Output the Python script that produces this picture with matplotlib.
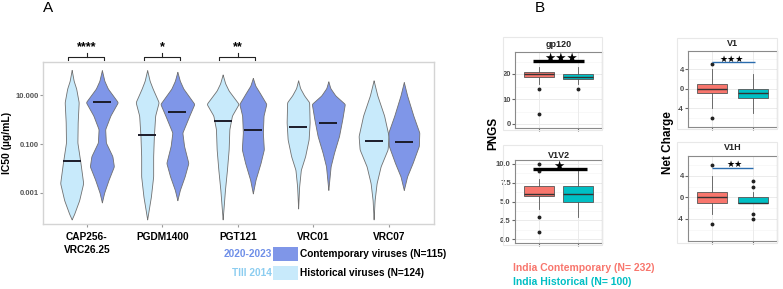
import numpy as np
import matplotlib.pyplot as plt
from matplotlib.patches import Rectangle

W, H = 783, 289
plt.rcParams['font.family'] = ['Liberation Sans', 'DejaVu Sans']
plt.rcParams['font.weight'] = 'bold'

# ---- panel A data ----
antibodies = ["CAP256-\nVRC26.25", "PGDM1400", "PGT121", "VRC01", "VRC07"]
sig_a = ["****", "*", "**", "", ""]
hist_median = [-1.71, -0.64, -0.05, -0.31, -0.89]   # log10 IC50
cont_median = [0.72, 0.31, -0.41, -0.15, -0.90]

# violin outlines: (log10 IC50, half width in px)
hist_shape = [
    [(2.05, 0), (1.6, 2), (1.28, 4.5), (0.72, 7), (-0.1, 6), (-0.94, 5.7), (-1.78, 8.8), (-2.61, 11.5), (-3.31, 7.5), (-3.87, 2.5), (-4.1, 0)],
    [(2.04, 0), (1.6, 2.5), (1.28, 5.5), (0.72, 11.5), (0.17, 8), (-0.67, 6.7), (-1.5, 6), (-2.33, 6), (-3.17, 3.7), (-3.72, 1.5), (-4.1, 0)],
    [(1.86, 0), (1.5, 2.5), (1.2, 6), (0.65, 16), (0.17, 9.3), (-0.39, 6.7), (-1.22, 6), (-2.06, 4.3), (-2.89, 2.3), (-3.58, 1), (-4.1, 0)],
    [(1.62, 0), (1.3, 2), (1.0, 6), (0.72, 11), (-0.11, 11.5), (-0.81, 10.5), (-1.5, 7), (-2.06, 2.7), (-2.75, 1), (-3.65, 0)],
    [(1.62, 0), (1.0, 3.7), (0.17, 10.5), (-0.67, 15), (-1.22, 14), (-1.92, 7), (-2.61, 3), (-3.31, 1), (-4.1, 0)],
]
cont_shape = [
    [(2.04, 0), (1.6, 2.5), (1.28, 6), (0.72, 16), (0.17, 8.5), (-0.39, 3.3), (-0.94, 4), (-1.5, 10.5), (-1.92, 12), (-2.47, 6.7), (-3.0, 2.3), (-3.4, 0)],
    [(1.97, 0), (1.6, 2.5), (1.28, 6), (0.65, 17), (0.17, 12), (-0.53, 5), (-1.08, 6.7), (-1.78, 11), (-2.33, 7.3), (-2.89, 2.5), (-3.31, 0)],
    [(1.72, 0), (1.4, 2.5), (1.1, 7), (0.65, 13.5), (0.17, 10.7), (-0.53, 10), (-1.22, 11), (-1.78, 7.7), (-2.47, 2.7), (-3.03, 0)],
    [(1.58, 0), (1.3, 2), (1.0, 7), (0.65, 16.5), (0.03, 14), (-0.67, 10.7), (-1.36, 5.7), (-1.92, 2.3), (-2.89, 0)],
    [(1.55, 0), (1.0, 3.3), (0.17, 9.5), (-0.53, 15.5), (-1.08, 15), (-1.78, 8.8), (-2.33, 3.3), (-2.89, 0)],
]

# ---- panel B data (box plot stats) ----
panels_b = ["gp120", "V1V2", "V1", "V1H"]
contemp_stats = [
    dict(med=20, q1=19, q3=21, whislo=16, whishi=23, fliers=[14, 4]),
    dict(med=6, q1=5.75, q3=7, whislo=4, whishi=8, fliers=[10, 9, 3, 1]),
    dict(med=0, q1=-1, q3=1, whislo=-4, whishi=4, fliers=[5, -6]),
    dict(med=0, q1=-1, q3=1, whislo=-3, whishi=4, fliers=[6, -5]),
]
hist_stats = [
    dict(med=19, q1=18, q3=20, whislo=16, whishi=23, fliers=[14]),
    dict(med=6, q1=5, q3=7, whislo=3, whishi=9, fliers=[]),
    dict(med=-1, q1=-2, q3=0, whislo=-5, whishi=3, fliers=[]),
    dict(med=-1, q1=-1, q3=0, whislo=-1, whishi=1, fliers=[3, 2, -3, -4]),
]
sig_b = ["★★★", "★", "★★★", "★★"]
sig_b_y = [25.3, 9.33, 5.4, 5.5]

LIGHT = '#c8eafb'
DARK = '#7f96e8'
RED = '#F8766D'
TEAL = '#00BFC4'

fig = plt.figure(figsize=(W / 100, H / 100), dpi=100)


def px_axes(l, t, r, b):
    return fig.add_axes([l / W, 1 - b / H, (r - l) / W, (b - t) / H])


def ftext(x, y, s, **kw):
    fig.text(x / W, 1 - y / H, s, **kw)


# ---------------- panel A ----------------
ax = px_axes(43, 62, 434, 224)
ax.set_xlim(-0.58, 4.6)
ax.set_ylim(-4.29, 2.375)
px_per_unit = 391 / (4.6 + 0.58)


def draw_violin(xc, shape, color):
    ys = np.array([p[0] for p in shape])[::-1]
    ws = np.array([p[1] for p in shape])[::-1]
    fine = np.linspace(ys[0], ys[-1], 300)
    w = np.interp(fine, ys, ws)
    k = np.hanning(9)
    k /= k.sum()
    w = np.convolve(np.pad(w, 4), k, mode='valid') / px_per_unit
    ax.fill_betweenx(fine, xc - w, xc + w, facecolor=color,
                     edgecolor='#707070', lw=0.6)


for i in range(len(antibodies)):
    draw_violin(i - 0.2, hist_shape[i], LIGHT)
    draw_violin(i + 0.2, cont_shape[i], DARK)
    ax.hlines(hist_median[i], i - 0.2 - 0.12, i - 0.2 + 0.12, color='#1c1c2a', lw=1.4)
    ax.hlines(cont_median[i], i + 0.2 - 0.12, i + 0.2 + 0.12, color='#1c1c2a', lw=1.4)
    if sig_a[i]:
        x0, x1 = i - 0.245, i + 0.23
        ax.plot([x0, x0, x1, x1], [2.46, 2.58, 2.58, 2.46], color='#222', lw=0.8, clip_on=False)
        ax.plot([i, i], [2.58, 2.74], color='#222', lw=0.8, clip_on=False)
        ax.text(i, 2.72, sig_a[i], ha='center', va='bottom', fontsize=9, clip_on=False)

for s in ax.spines.values():
    s.set_color('#d4d4d4')
    s.set_linewidth(1.0)
ax.set_yticks([1, -1, -3], ['10.000', '0.100', '0.001'])
ax.tick_params(axis='y', length=2, color='#999999', labelsize=5.5, labelcolor='#555555', pad=1)
ax.set_xticks(range(len(antibodies)), antibodies)
ax.tick_params(axis='x', length=2, color='#999999', labelsize=7.3, pad=4)
for lab in ax.get_xticklabels():
    lab.set_linespacing(1.35)

ftext(7, 143, "IC50 (µg/mL)", rotation=90, ha='center', va='center', fontsize=7.5)
ftext(48, 8, "A", ha='center', va='center', fontsize=11, fontweight='normal')

# legend of panel A
fig.patches.append(Rectangle((273 / W, 1 - 261 / H), 25 / W, 14 / H, transform=fig.transFigure,
                             facecolor=DARK, edgecolor='none'))
fig.patches.append(Rectangle((273 / W, 1 - 280 / H), 25 / W, 14.5 / H, transform=fig.transFigure,
                             facecolor=LIGHT, edgecolor='none'))
ftext(271.5, 254, "2020-2023", ha='right', va='center', fontsize=7.3, color='#6f8fe8')
ftext(271.5, 273, "TIII 2014", ha='right', va='center', fontsize=7.3, color='#8ccdf0')
ftext(299.5, 254, "Contemporary viruses (N=115)", ha='left', va='center', fontsize=7.3)
ftext(299.5, 273, "Historical viruses (N=124)", ha='left', va='center', fontsize=7.3)

# ---------------- panel B ----------------
boxes_px = [(515, 52, 602, 128), (515, 160, 602, 243), (688, 51, 777, 127), (688, 156, 777, 241)]
outer_px = [(503, 37, 602, 130), (503, 145, 602, 245), (677, 38, 777, 129), (677, 142, 777, 243)]
ylims = [(-1.6, 28.8), (-0.53, 10.53), (-7.9, 7.7), (-8.1, 7.7)]
yticks = [[0, 10, 20], [0, 2.5, 5, 7.5, 10], [-4, 0, 4], [-4, 0, 4]]
ytlabels = [['0', '10', '20'], ['0.0', '2.5', '5.0', '7.5', '10.0'], ['-4', '0', '4'], ['-4', '0', '4']]
yminor = [[5, 15, 25], [1.25, 3.75, 6.25, 8.75], [-6, -2, 2, 6], [-6, -2, 2, 6]]
bar_x = [(0.856, 2.15), (0.856, 2.22), (1.0, 2.06), (1.0, 2.0)]
bar_style = [dict(color='black', lw=2.4), dict(color='black', lw=2.4),
             dict(color='#2a6cae', lw=1.0), dict(color='#2a6cae', lw=1.0)]
star_xy = [(1.56, 26.3), (1.52, 9.7), (1.49, 5.9), (1.54, 6.1)]
star_size = [9, 9, 6.5, 6.5]
title_y = [45, 155, 43, 147]

for k, name in enumerate(panels_b):
    l, t, r, b = outer_px[k]
    fig.patches.append(Rectangle((l / W, 1 - b / H), (r - l) / W, (b - t) / H, transform=fig.transFigure,
                                 facecolor='none', edgecolor='#e8e8e8', lw=0.8))
    bx = px_axes(*boxes_px[k])
    bx.set_xlim(0.4, 2.6)
    bx.set_ylim(*ylims[k])
    for v in yticks[k]:
        bx.axhline(v, color='#ebebeb', lw=0.7, zorder=0)
    for v in yminor[k]:
        bx.axhline(v, color='#f3f3f3', lw=0.4, zorder=0)
    for v in (1, 2):
        bx.axvline(v, color='#ebebeb', lw=0.7, zorder=0)
    art = bx.bxp([contemp_stats[k], hist_stats[k]], positions=[1, 2], widths=0.75,
                 patch_artist=True, showcaps=False,
                 boxprops=dict(edgecolor='#555555', lw=0.6),
                 medianprops=dict(color='#333333', lw=1.0),
                 whiskerprops=dict(color='#555555', lw=0.6),
                 flierprops=dict(marker='o', ms=1.8, mfc='#222222', mec='#222222'))
    art['boxes'][0].set_facecolor(RED)
    art['boxes'][1].set_facecolor(TEAL)
    bx.plot(bar_x[k], [sig_b_y[k]] * 2, solid_capstyle='butt', **bar_style[k])
    bx.text(star_xy[k][0], star_xy[k][1], sig_b[k], ha='center', va='center',
            fontsize=star_size[k], family='DejaVu Sans')
    bx.set_yticks(yticks[k], ytlabels[k])
    bx.set_xticks([1, 2], ['', ''])
    bx.tick_params(length=2, color='#666666', labelsize=5.5, labelcolor='#4d4d4d', pad=1)
    for s in bx.spines.values():
        s.set_color('#8a8a8a')
        s.set_linewidth(0.8)
    cx = (boxes_px[k][0] + boxes_px[k][2]) / 2
    ftext(cx, title_y[k], name, ha='center', va='center', fontsize=6.5, color='#222222')

ftext(493, 133, "PNGS", rotation=90, ha='center', va='center', fontsize=8.5)
ftext(668, 143, "Net Charge", rotation=90, ha='center', va='center', fontsize=8.5)
ftext(540, 8, "B", ha='center', va='center', fontsize=11, fontweight='normal')
ftext(513, 268, "India Contemporary (N= 232)", ha='left', va='center', fontsize=7.5, color=RED)
ftext(513, 282, "India Historical (N= 100)", ha='left', va='center', fontsize=7.5, color=TEAL)

fig.savefig('out.png', dpi=100)
